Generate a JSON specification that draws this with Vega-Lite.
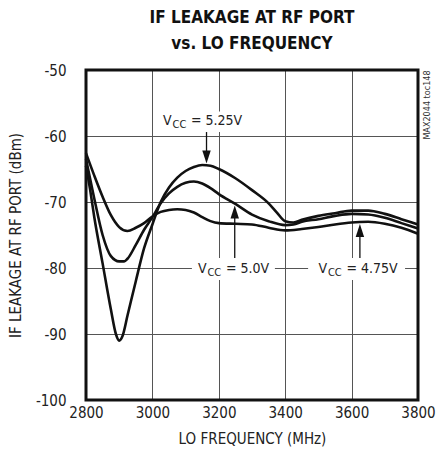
{
  "$schema": "https://vega.github.io/schema/vega-lite/v6.json",
  "width": 332,
  "height": 330,
  "autosize": {"type": "none"},
  "padding": {"left": 86, "top": 70, "right": 27, "bottom": 64},
  "background": "white",
  "config": {
    "view": {"stroke": null},
    "font": "DejaVu Sans Condensed, Liberation Sans, sans-serif"
  },
  "title": {
    "text": ["IF LEAKAGE AT RF PORT", "vs. LO FREQUENCY"],
    "font": "DejaVu Sans Condensed, Liberation Sans, sans-serif",
    "fontWeight": "bold",
    "fontSize": 17,
    "lineHeight": 26,
    "anchor": "middle",
    "offset": 10,
    "color": "#111"
  },
  "datasets": {
    "curves": [
      {"s": "5.25V", "f": 2800, "v": -64.5}, {"s": "5.25V", "f": 2812, "v": -68.0}, {"s": "5.25V", "f": 2825, "v": -72.3}, {"s": "5.25V", "f": 2850, "v": -79.3}, {"s": "5.25V", "f": 2875, "v": -86.3}, {"s": "5.25V", "f": 2890, "v": -90.0}, {"s": "5.25V", "f": 2900, "v": -91.0}, {"s": "5.25V", "f": 2910, "v": -90.3}, {"s": "5.25V", "f": 2925, "v": -87.2}, {"s": "5.25V", "f": 2950, "v": -82.0}, {"s": "5.25V", "f": 2975, "v": -77.0}, {"s": "5.25V", "f": 3000, "v": -73.4}, {"s": "5.25V", "f": 3025, "v": -70.0}, {"s": "5.25V", "f": 3050, "v": -67.8}, {"s": "5.25V", "f": 3075, "v": -66.3}, {"s": "5.25V", "f": 3100, "v": -65.3}, {"s": "5.25V", "f": 3125, "v": -64.7}, {"s": "5.25V", "f": 3150, "v": -64.4}, {"s": "5.25V", "f": 3175, "v": -64.5}, {"s": "5.25V", "f": 3200, "v": -65.0}, {"s": "5.25V", "f": 3250, "v": -66.4}, {"s": "5.25V", "f": 3300, "v": -68.2}, {"s": "5.25V", "f": 3350, "v": -70.2}, {"s": "5.25V", "f": 3375, "v": -71.6}, {"s": "5.25V", "f": 3400, "v": -72.9}, {"s": "5.25V", "f": 3425, "v": -73.1}, {"s": "5.25V", "f": 3450, "v": -72.7}, {"s": "5.25V", "f": 3500, "v": -72.1}, {"s": "5.25V", "f": 3550, "v": -71.7}, {"s": "5.25V", "f": 3600, "v": -71.3}, {"s": "5.25V", "f": 3650, "v": -71.3}, {"s": "5.25V", "f": 3700, "v": -71.8}, {"s": "5.25V", "f": 3750, "v": -72.6}, {"s": "5.25V", "f": 3800, "v": -73.4},
      {"s": "5.0V", "f": 2800, "v": -63.5}, {"s": "5.0V", "f": 2825, "v": -69.5}, {"s": "5.0V", "f": 2850, "v": -75.0}, {"s": "5.0V", "f": 2875, "v": -78.2}, {"s": "5.0V", "f": 2900, "v": -79.0}, {"s": "5.0V", "f": 2915, "v": -79.0}, {"s": "5.0V", "f": 2925, "v": -78.6}, {"s": "5.0V", "f": 2950, "v": -76.5}, {"s": "5.0V", "f": 2975, "v": -74.2}, {"s": "5.0V", "f": 3000, "v": -72.3}, {"s": "5.0V", "f": 3025, "v": -70.2}, {"s": "5.0V", "f": 3050, "v": -68.7}, {"s": "5.0V", "f": 3075, "v": -67.7}, {"s": "5.0V", "f": 3100, "v": -67.1}, {"s": "5.0V", "f": 3125, "v": -66.9}, {"s": "5.0V", "f": 3150, "v": -67.2}, {"s": "5.0V", "f": 3175, "v": -67.9}, {"s": "5.0V", "f": 3200, "v": -68.8}, {"s": "5.0V", "f": 3250, "v": -70.3}, {"s": "5.0V", "f": 3300, "v": -71.9}, {"s": "5.0V", "f": 3350, "v": -72.9}, {"s": "5.0V", "f": 3400, "v": -73.5}, {"s": "5.0V", "f": 3425, "v": -73.4}, {"s": "5.0V", "f": 3450, "v": -73.0}, {"s": "5.0V", "f": 3500, "v": -72.6}, {"s": "5.0V", "f": 3550, "v": -72.1}, {"s": "5.0V", "f": 3600, "v": -71.8}, {"s": "5.0V", "f": 3650, "v": -71.9}, {"s": "5.0V", "f": 3700, "v": -72.4}, {"s": "5.0V", "f": 3750, "v": -73.2}, {"s": "5.0V", "f": 3800, "v": -74.0},
      {"s": "4.75V", "f": 2800, "v": -62.6}, {"s": "4.75V", "f": 2825, "v": -66.0}, {"s": "4.75V", "f": 2850, "v": -69.2}, {"s": "4.75V", "f": 2875, "v": -72.0}, {"s": "4.75V", "f": 2900, "v": -73.8}, {"s": "4.75V", "f": 2925, "v": -74.4}, {"s": "4.75V", "f": 2950, "v": -73.9}, {"s": "4.75V", "f": 2975, "v": -73.2}, {"s": "4.75V", "f": 3000, "v": -72.2}, {"s": "4.75V", "f": 3025, "v": -71.5}, {"s": "4.75V", "f": 3050, "v": -71.2}, {"s": "4.75V", "f": 3075, "v": -71.1}, {"s": "4.75V", "f": 3100, "v": -71.2}, {"s": "4.75V", "f": 3125, "v": -71.6}, {"s": "4.75V", "f": 3150, "v": -72.3}, {"s": "4.75V", "f": 3175, "v": -72.9}, {"s": "4.75V", "f": 3200, "v": -73.2}, {"s": "4.75V", "f": 3250, "v": -73.3}, {"s": "4.75V", "f": 3300, "v": -73.4}, {"s": "4.75V", "f": 3350, "v": -73.9}, {"s": "4.75V", "f": 3400, "v": -74.3}, {"s": "4.75V", "f": 3450, "v": -74.1}, {"s": "4.75V", "f": 3500, "v": -73.8}, {"s": "4.75V", "f": 3550, "v": -73.4}, {"s": "4.75V", "f": 3600, "v": -73.1}, {"s": "4.75V", "f": 3650, "v": -73.0}, {"s": "4.75V", "f": 3700, "v": -73.3}, {"s": "4.75V", "f": 3750, "v": -73.9}, {"s": "4.75V", "f": 3800, "v": -74.8}
    ],
    "labels": [
      {"f": 3032, "v": -57.8, "rest": "= 5.25V", "bf": 3023, "bf2": 3282, "bv": -56.3, "bv2": -59.4},
      {"f": 3137, "v": -80.15, "rest": "= 5.0V", "bf": 3119, "bf2": 3369, "bv": -78.5, "bv2": -81.8},
      {"f": 3500, "v": -80.15, "rest": "= 4.75V", "bf": 3469, "bf2": 3761, "bv": -78.5, "bv2": -81.8}
    ],
    "shafts": [
      {"f": 3163, "v": -59.4, "v2": -63.2},
      {"f": 3248, "v": -71.5, "v2": -78.5},
      {"f": 3625, "v": -74.3, "v2": -78.5}
    ],
    "heads": [
      {"f": 3163, "v": -63.2, "shape": "M-0.65,-1L0.65,-1L0,1Z"},
      {"f": 3248, "v": -71.5, "shape": "M-0.65,1L0.65,1L0,-1Z"},
      {"f": 3625, "v": -74.3, "shape": "M-0.65,1L0.65,1L0,-1Z"}
    ],
    "frame": [{"f": 2800, "f2": 3800, "v": -100, "v2": -50}]
  },
  "layer": [
    {
      "data": {"name": "curves"},
      "mark": {"type": "line", "interpolate": "monotone", "stroke": "#111", "strokeWidth": 2.6},
      "encoding": {
        "x": {
          "field": "f", "type": "quantitative",
          "scale": {"domain": [2800, 3800], "nice": false, "zero": false},
          "axis": {
            "values": [2800, 3000, 3200, 3400, 3600, 3800],
            "labelExpr": "'' + datum.value",
            "title": "LO FREQUENCY (MHz)",
            "grid": true, "gridColor": "#555", "gridWidth": 1,
            "domain": false, "ticks": false,
            "labelPadding": 5, "labelFontSize": 15, "labelColor": "#222",
            "labelFlush": false,
            "titleFontSize": 15, "titleFontWeight": "normal", "titleColor": "#222", "titlePadding": 11
          }
        },
        "y": {
          "field": "v", "type": "quantitative",
          "scale": {"domain": [-100, -50], "nice": false, "zero": false},
          "axis": {
            "values": [-100, -90, -80, -70, -60, -50],
            "labelExpr": "'' + datum.value",
            "title": "IF LEAKAGE AT RF PORT (dBm)",
            "grid": true, "gridColor": "#555", "gridWidth": 1,
            "domain": false, "ticks": false,
            "labelPadding": 20, "labelFontSize": 15, "labelColor": "#222",
            "labelFlush": false,
            "titleFontSize": 15, "titleFontWeight": "normal", "titleColor": "#222", "titlePadding": 12
          }
        },
        "detail": {"field": "s", "type": "nominal"}
      }
    },
    {
      "data": {"name": "labels"},
      "mark": {"type": "rect", "fill": "white"},
      "encoding": {
        "x": {"field": "bf", "type": "quantitative"},
        "x2": {"field": "bf2"},
        "y": {"field": "bv", "type": "quantitative"},
        "y2": {"field": "bv2"}
      }
    },
    {
      "data": {"name": "shafts"},
      "mark": {"type": "rule", "stroke": "#111", "strokeWidth": 1.3},
      "encoding": {
        "x": {"field": "f", "type": "quantitative"},
        "y": {"field": "v", "type": "quantitative"},
        "y2": {"field": "v2"}
      }
    },
    {
      "data": {"name": "heads"},
      "mark": {"type": "point", "filled": true, "fill": "#111", "stroke": null, "size": 169, "opacity": 1},
      "encoding": {
        "x": {"field": "f", "type": "quantitative"},
        "y": {"field": "v", "type": "quantitative"},
        "shape": {"field": "shape", "type": "nominal", "scale": null}
      }
    },
    {
      "data": {"name": "labels"},
      "mark": {"type": "text", "align": "left", "baseline": "middle", "fontSize": 14, "fill": "#222", "text": "V"},
      "encoding": {
        "x": {"field": "f", "type": "quantitative"},
        "y": {"field": "v", "type": "quantitative"}
      }
    },
    {
      "data": {"name": "labels"},
      "mark": {"type": "text", "align": "left", "baseline": "middle", "fontSize": 11, "fill": "#222", "text": "CC", "dx": 9.5, "dy": 4},
      "encoding": {
        "x": {"field": "f", "type": "quantitative"},
        "y": {"field": "v", "type": "quantitative"}
      }
    },
    {
      "data": {"name": "labels"},
      "mark": {"type": "text", "align": "left", "baseline": "middle", "fontSize": 14, "fill": "#222", "dx": 28},
      "encoding": {
        "x": {"field": "f", "type": "quantitative"},
        "y": {"field": "v", "type": "quantitative"},
        "text": {"field": "rest"}
      }
    },
    {
      "data": {"values": [{"f": 3827, "v": -55.3, "t": "MAX2044 toc148"}]},
      "mark": {"type": "text", "align": "center", "baseline": "middle", "angle": 270, "fontSize": 9, "fill": "#333"},
      "encoding": {
        "x": {"field": "f", "type": "quantitative"},
        "y": {"field": "v", "type": "quantitative"},
        "text": {"field": "t"}
      }
    },
    {
      "data": {"name": "frame"},
      "mark": {"type": "rect", "fill": "transparent", "stroke": "#111", "strokeWidth": 3},
      "encoding": {
        "x": {"field": "f", "type": "quantitative"},
        "x2": {"field": "f2"},
        "y": {"field": "v", "type": "quantitative"},
        "y2": {"field": "v2"}
      }
    }
  ]
}
